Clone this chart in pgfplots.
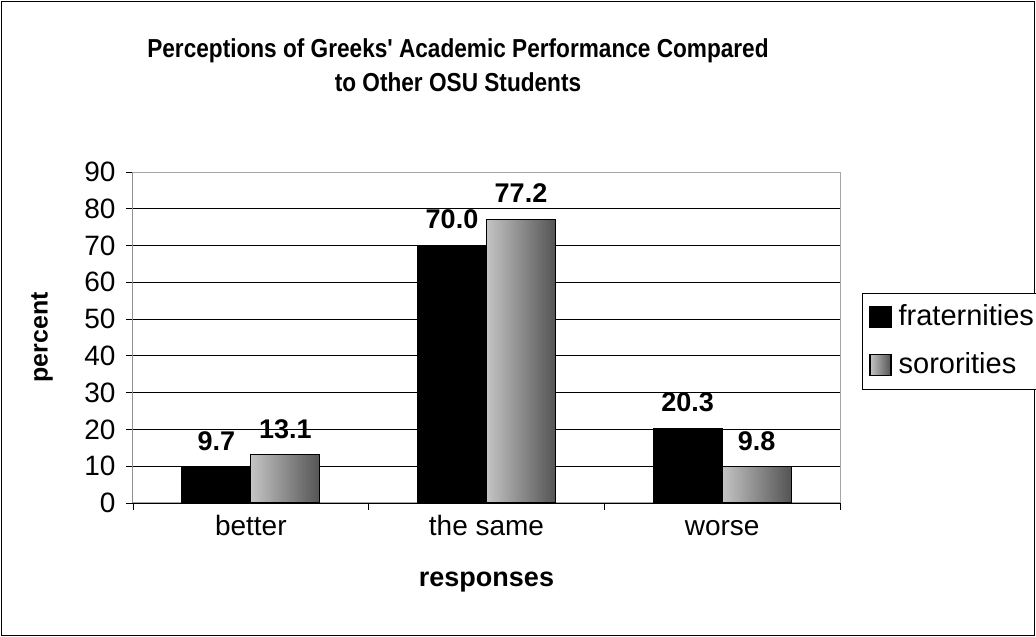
\documentclass[border=0pt]{standalone}
\usepackage{pgfplots}
\pgfplotsset{compat=1.18}
\usepackage{fontspec}
\setmainfont{Liberation Sans}
\newfontfamily\titlefont[FakeStretch=0.87]{Liberation Sans}
\definecolor{lightg}{RGB}{196,196,196}
\definecolor{darkg}{RGB}{84,84,84}
\pgfplotsset{sqlegend/.style={legend image code/.code={\draw[##1,draw=black,line width=1.2pt] (0pt,-10pt) rectangle (21pt,11pt);}}}
\begin{document}
\begin{tikzpicture}[x=1pt,y=1pt]
\useasboundingbox (0,0) rectangle (1036,637);
\draw[line width=1.6pt] (1.5,1.5) rectangle (1034.5,635.5);
\begin{axis}[
  at={(133pt,134pt)}, anchor=south west,
  scale only axis, width=707pt, height=331pt,
  xmin=-0.5, xmax=2.5, ymin=0, ymax=90,
  ytick={0,10,...,90},
  xtick={0,1,2}, xticklabels={better,the same,worse},
  minor xtick={-0.5,0.5,1.5,2.5},
  major x tick style={draw=none},
  tick pos=left,
  tick align=outside, major tick length=7pt, minor tick length=7pt,
  tick style={black, line width=0.8pt},
  ymajorgrids, grid style={black, line width=0.8pt},
  axis line style={draw=gray!70, line width=1pt},
  ticklabel style={font=\fontsize{28}{32}\selectfont},
  /pgf/number format/assume math mode=true,
  yticklabel style={xshift=-7pt},
  xticklabel style={yshift=-2pt, text height=20pt, text depth=6pt},
  xlabel={responses}, ylabel={percent},
  xlabel style={font=\bfseries\fontsize{27}{30}\selectfont, at={(axis description cs:0.5,-0.2387)}, anchor=center},
  ylabel style={font=\bfseries\fontsize{25}{30}\selectfont, at={(axis description cs:-0.1287,0.5)}, anchor=center, rotate=0},
  title={Perceptions of Greeks' Academic Performance Compared\\to Other OSU Students},
  title style={font=\titlefont\bfseries\fontsize{26}{34}\selectfont, align=center, at={(axis description cs:0.4597,1.304)}, anchor=center},
  bar width=69pt,
  nodes near coords,
  nodes near coords style={font=\bfseries\fontsize{27}{30}\selectfont, anchor=south, inner sep=0pt, yshift=16pt,
    /pgf/number format/fixed, /pgf/number format/fixed zerofill, /pgf/number format/precision=1},
  legend style={at={(axis description cs:1.031,0.634)}, anchor=north west, draw=black, line width=1pt,
    font=\fontsize{29}{32}\selectfont, inner xsep=7pt, inner ysep=8pt, row sep=16pt, column sep=4pt,
    nodes={inner sep=3pt, text height=21pt, text depth=5pt}},
  legend cell align=left,
]
\addplot[ybar, bar shift=-34.5pt, sqlegend, fill=black, draw=black, line width=1pt,
  every node near coord/.append style={xshift=-34.5pt}] coordinates {(0,9.7) (1,70.0) (2,20.3)};
\addlegendentry{fraternities}
\addplot[ybar, bar shift=34.5pt, sqlegend, left color=lightg, right color=darkg, draw=black, line width=1pt,
  every node near coord/.append style={xshift=34.5pt}] coordinates {(0,13.1)};
\addlegendentry{sororities}
\addplot[ybar, bar shift=34.5pt, forget plot, left color=lightg, right color=darkg, draw=black, line width=1pt,
  every node near coord/.append style={xshift=34.5pt}] coordinates {(1,77.2)};
\addplot[ybar, bar shift=34.5pt, forget plot, left color=lightg, right color=darkg, draw=black, line width=1pt,
  every node near coord/.append style={xshift=34.5pt}] coordinates {(2,9.8)};
\draw[black, line width=1pt] (rel axis cs:0,0) -- (rel axis cs:0,1);
\end{axis}
\end{tikzpicture}
\end{document}
